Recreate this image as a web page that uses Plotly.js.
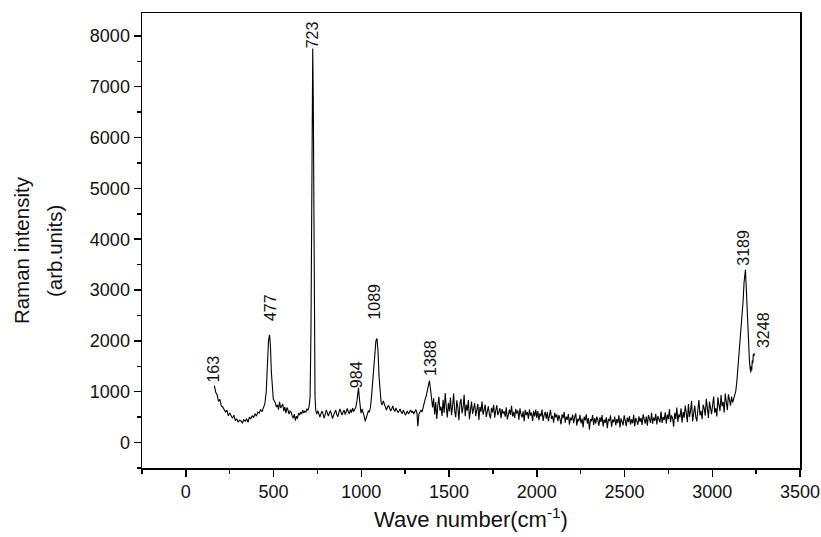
<!DOCTYPE html>
<html>
<head>
<meta charset="utf-8">
<script src="https://cdn.plot.ly/plotly-3.0.1.min.js"></script>
<style>html,body{margin:0;padding:0;background:#fff;}#chart{width:821px;height:537px;}</style>
</head>
<body>
<div id="chart"></div>
<script>
var wavenumber = [
 163,170,178,186,194,202,210,218,226,234,242,250,258,266,274,282,290,298,306,314,322,330,338,346,354,362,370,378,386,394,402,410,418,426,434,442,
 450,458,465,471,477,482,487,492,498,
 504,510,516,522,528,534,540,546,552,558,564,570,576,582,588,594,600,606,612,618,624,630,636,642,648,654,660,666,672,678,684,690,696,702,
 708,713,717,720,723,726,729,732,736,740,
 746,752,758,764,770,776,782,788,794,800,806,812,818,824,830,836,842,848,854,860,866,872,878,884,890,896,902,908,914,920,926,932,938,944,950,956,962,968,
 975,980,984,988,993,
 998,1004,1010,1016,1022,1028,1034,1040,1046,1052,
 1058,1064,1070,1077,1083,1089,1095,1101,1107,
 1113,1119,1125,1131,1137,1143,1149,1155,1161,1167,1173,1179,1185,1191,1197,1203,1209,1215,1221,1227,1233,1239,1245,1251,1257,1263,1269,1275,1281,1287,1293,1299,1305,1311,1317,
 1322,
 1328,1334,1340,1346,1352,1358,1364,1370,1376,1382,
 1388,1394,1400,
 1406,1412,1418,1424,1430,1436,1442,1448,1454,1460,1466,1472,1478,1484,1490,1496,1502,1508,1514,1520,1526,1532,1538,1544,1550,1556,1562,1568,1574,1580,1586,1592,1598,1604,1610,1616,1622,1628,1634,1640,1646,1652,1658,1664,1670,1676,1682,1688,1694,1700,1706,1712,1718,1724,1730,1736,1742,1748,1754,1760,1766,1772,1778,1784,1790,1796,1802,1808,1814,1820,1826,1832,1838,1844,1850,1856,1862,1868,1874,1880,1886,1892,1898,1904,1910,1916,1922,1928,1934,1940,1946,1952,1958,1964,1970,1976,1982,1988,1994,
 2000,2006,2012,2018,2024,2030,2036,2042,2048,2054,2060,2066,2072,2078,2084,2090,2096,2102,2108,2114,2120,2126,2132,2138,2144,2150,2156,2162,2168,2174,2180,2186,2192,2198,2204,2210,2216,2222,2228,2234,2240,2246,2252,2258,2264,2270,2276,2282,2288,2294,2300,2306,2312,2318,2324,2330,2336,2342,2348,2354,2360,2366,2372,2378,2384,2390,2396,2402,2408,2414,2420,2426,2432,2438,2444,2450,2456,2462,2468,2474,2480,2486,2492,2498,2504,2510,2516,2522,2528,2534,2540,2546,2552,2558,2564,2570,2576,2582,2588,2594,2600,2606,2612,2618,2624,2630,2636,2642,2648,2654,2660,2666,2672,2678,2684,2690,2696,2702,2708,2714,2720,2726,2732,2738,2744,2750,2756,2762,2768,2774,2780,2786,2792,2798,2804,2810,2816,2822,2828,2834,2840,2846,2852,2858,2864,2870,2876,2882,2888,2894,2900,2906,2912,2918,2924,2930,2936,2942,2948,2954,2960,2966,2972,2978,2984,2990,2996,3002,3008,3014,3020,3026,3032,3038,3044,3050,3056,3062,3068,3074,3080,3086,3092,3098,3104,3110,3116,3122,3128,3134,
 3140,3146,3152,3158,3164,3170,3176,3181,3185,3189,3193,3198,3203,3208,3212,3216,3219,3222,3225,3228,3231,3234,3237,3240];
var intensity = [
 1120,990,940,810,850,720,700,660,600,640,530,580,520,480,540,430,470,400,440,430,380,450,420,470,400,500,470,530,490,570,520,600,580,650,610,690,
 760,1000,1500,2000,2120,1900,1400,1000,860,
 820,780,700,740,650,800,680,720,760,620,700,580,690,640,560,620,600,520,480,560,430,520,470,580,540,600,560,640,580,620,600,660,640,700,
 900,2200,4800,7000,7750,6800,4200,2000,900,640,
 560,630,580,500,570,620,560,480,550,640,590,520,580,630,550,470,540,610,640,550,510,590,660,600,540,600,640,550,610,670,600,570,650,590,680,610,650,690,
 820,1000,1080,900,620,
 580,660,600,520,420,500,580,620,600,700,
 900,1200,1500,1850,2000,2050,1800,1300,950,
 780,740,820,760,700,640,700,730,680,620,660,720,650,610,680,640,590,620,660,600,570,640,600,540,580,620,560,600,640,590,620,560,600,650,580,
 320,
 560,620,640,600,700,760,860,920,1040,1150,
 1220,1060,820,
 690,870,555,795,465,735,900,630,705,525,
 840,585,975,705,495,780,615,885,540,720,
 965,620,500,830,695,440,770,860,575,695,
 940,520,745,625,835,460,700,805,565,685,
 775,520,655,760,445,700,610,805,550,640,
 745,505,610,715,550,475,685,595,745,490,
 630,735,540,600,675,480,660,570,615,510,
 695,455,590,650,545,725,515,605,485,665,
 570,630,450,675,555,495,615,420,645,540,
 605,470,650,530,590,425,620,515,650,
 485,620,440,575,515,650,425,545,605,470,
 600,420,540,645,465,525,390,585,495,555,
 420,540,465,360,555,480,600,390,510,450,
 560,350,490,440,550,380,500,575,335,470,
 420,545,380,470,300,510,435,555,375,480,
 255,465,420,540,345,480,375,510,435,330,
 495,405,540,315,450,390,495,285,465,420,
 535,310,450,400,510,340,460,385,535,300,
 475,415,340,535,430,325,490,400,520,355,
 455,380,545,320,485,425,350,515,410,485,
 345,555,435,375,510,330,540,450,390,585,
 370,490,430,565,355,520,460,400,610,385,
 505,445,595,370,550,460,655,400,535,475,
 315,585,465,690,405,555,495,675,390,600,
 490,730,580,400,760,505,625,820,415,610,
 730,505,415,655,835,535,625,460,745,670,
 530,860,620,485,800,695,560,740,905,590,
 680,515,890,740,620,935,710,800,590,965,
 725,635,950,815,725,905,785,860,935,1010,
 1200,1450,1700,1950,2150,2400,2800,3150,3350,3400,3100,2600,2200,1850,1600,1450,1380,1500,1420,1620,1560,1740,1700,1760];
var peakLabels = ["163","477","723","984","1089","1388","3189","3248"];
var labelX = [160,482,723,972,1078,1394,3178,3292];
var labelY = [1150,2350,7720,1030,2380,1280,3430,1810];
var yTitleLines = ["Raman intensity","(arb.units)"];

var FONT = 'Liberation Sans, Arial, sans-serif';
var annotations = peakLabels.map(function(t,i){
  return {x: labelX[i], y: labelY[i], xref:'x', yref:'y', text: t, showarrow:false,
    textangle:-90, xanchor:'center', yanchor:'bottom',
    font:{family:FONT, size:16, color:'#111'}};
});
var yTitleX = [-0.183,-0.133];
yTitleLines.forEach(function(t,i){
  annotations.push({x:yTitleX[i], y:0.478, xref:'paper', yref:'paper', text:t, showarrow:false,
    textangle:-90, xanchor:'center', yanchor:'middle', font:{family:FONT, size:20.5, color:'#111'}});
});

var trace = {x: wavenumber, y: intensity, type:'scatter', mode:'lines',
  line:{color:'#000', width:1.1}, hoverinfo:'skip'};

var axisFont = {family:FONT, size:18, color:'#111'};
var layout = {
  width:821, height:537,
  margin:{l:142, r:21, t:13, b:69},
  paper_bgcolor:'#fff', plot_bgcolor:'#fff',
  showlegend:false,
  font:{family:FONT, color:'#111'},
  xaxis:{range:[-250,3500], tickvals:[0,500,1000,1500,2000,2500,3000,3500],
    ticks:'outside', ticklen:7, tickwidth:1.5, tickcolor:'#000',
    minor:{dtick:250, tick0:0, ticks:'outside', ticklen:4, tickwidth:1.5, tickcolor:'#000'},
    showline:true, linecolor:'#000', linewidth:1.5, mirror:true,
    showgrid:false, zeroline:false, tickfont:axisFont,
    title:{text:'Wave number(cm<sup>-1</sup>)', font:{family:FONT, size:22, color:'#111'}, standoff:10}},
  yaxis:{range:[-500,8450], tickvals:[0,1000,2000,3000,4000,5000,6000,7000,8000],
    ticks:'outside', ticklen:7, tickwidth:1.5, tickcolor:'#000',
    minor:{dtick:500, tick0:0, ticks:'outside', ticklen:4, tickwidth:1.5, tickcolor:'#000'},
    showline:true, linecolor:'#000', linewidth:1.5, mirror:true,
    showgrid:false, zeroline:false, tickfont:axisFont},
  annotations: annotations
};
Plotly.newPlot('chart',[trace],layout,{displayModeBar:false, staticPlot:true});
</script>
</body>
</html>
